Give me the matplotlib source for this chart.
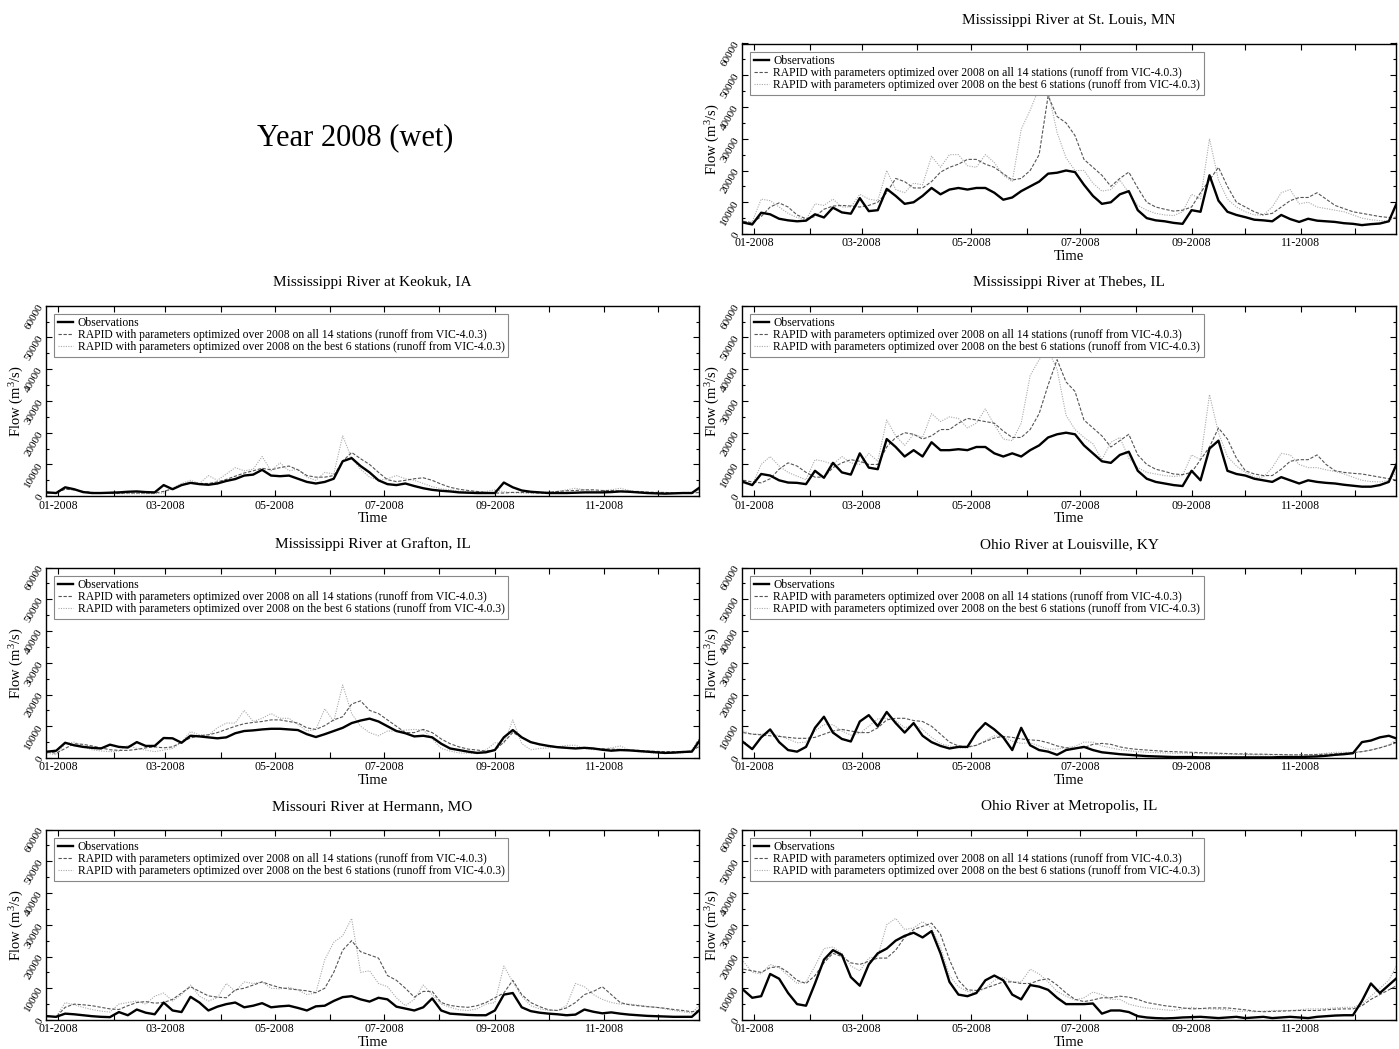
import numpy as np
import matplotlib
matplotlib.use('Agg')
import matplotlib.pyplot as plt

plt.rcParams['font.family'] = ['Liberation Serif', 'DejaVu Serif']
plt.rcParams['mathtext.fontset'] = 'custom'
plt.rcParams['mathtext.rm'] = 'Liberation Serif'
plt.rcParams['mathtext.it'] = 'Liberation Serif:italic'

# sample days (relative to 1 Jan 2008), one value every 5 days
DAYS = np.arange(-6, 360, 5)

MONTH_STARTS = [0, 31, 60, 91, 121, 152, 182, 213, 244, 274, 305, 335]
MONTH_LABELS = ['01-2008', '', '03-2008', '', '05-2008', '', '07-2008', '',
                '09-2008', '', '11-2008', '']

LEGEND_LABELS = [
    'Observations',
    'RAPID with parameters optimized over 2008 on all 14 stations (runoff from VIC-4.0.3)',
    'RAPID with parameters optimized over 2008 on the best 6 stations (runoff from VIC-4.0.3)',
]

# flows in thousands of m3/s
stl_obs = [3.6, 3.0, 6.7, 6.2, 4.8, 4.3, 4.0, 4.2, 6.2, 5.2,
           8.3, 6.8, 6.4, 11.3, 7.2, 7.5, 14.2, 12.0, 9.5, 10.0,
           12.0, 14.5, 12.5, 14.0, 14.5, 14.0, 14.5, 14.5, 13.0, 10.8,
           11.5, 13.5, 15.0, 16.5, 19.0, 19.3, 20.0, 19.5, 15.5, 12.0,
           9.5, 10.0, 12.5, 13.5, 7.5, 5.0, 4.3, 4.0, 3.5, 3.2,
           7.5, 7.0, 18.5, 10.5, 7.0, 6.0, 5.3, 4.5, 4.3, 4.0,
           6.0, 4.7, 3.8, 4.8, 4.2, 4.0, 3.8, 3.4, 3.2, 2.8,
           3.1, 3.3, 4.0, 10.5]
stl_r14 = [4.0, 3.5, 5.5, 8.5, 9.8, 8.5, 6.0, 4.8, 5.5, 7.8,
           8.8, 9.0, 8.8, 8.5, 9.0, 10.0, 13.0, 17.5, 16.5, 14.5,
           14.5, 16.5, 19.5, 21.0, 22.0, 23.5, 23.5, 22.0, 21.0, 19.0,
           17.0, 17.5, 20.0, 25.0, 43.5, 37.0, 35.0, 31.0, 23.5, 21.0,
           18.5, 15.0, 17.5, 19.5, 14.5, 10.0, 8.5, 7.8, 7.2, 7.5,
           8.5, 13.0, 17.0, 21.0, 15.0, 10.0, 8.5, 7.0, 6.0, 6.5,
           8.5, 10.5, 11.5, 11.5, 13.0, 11.0, 9.0, 8.0, 7.0, 6.5,
           6.0, 5.5, 5.2, 5.0]
stl_r6 = [4.0, 3.8, 11.0, 10.5, 8.5, 6.5, 5.2, 4.5, 9.5, 9.0,
          11.0, 8.5, 8.5, 12.5, 11.0, 10.5, 20.0, 14.0, 13.0, 16.0,
          15.5, 24.5, 21.0, 25.0, 25.0, 21.5, 21.0, 25.0, 22.5, 18.5,
          16.5, 33.0, 39.0, 46.0, 45.0, 32.0, 24.0, 20.0, 20.0, 16.0,
          13.5, 14.0, 17.0, 13.0, 9.0, 7.5, 6.5, 6.0, 5.8, 7.0,
          12.5, 11.0, 30.0, 17.0, 11.0, 8.5, 7.0, 6.0, 6.0, 8.5,
          13.0, 14.0, 9.5, 10.0, 8.5, 8.0, 7.5, 7.0, 6.0, 5.0,
          4.5, 4.2, 4.0, 6.0]

keo_obs = [1.2, 1.0, 2.8, 2.2, 1.3, 1.0, 1.0, 1.1, 1.2, 1.4,
           1.5, 1.3, 1.2, 3.5, 2.2, 3.5, 4.2, 3.8, 3.6, 4.0,
           4.8, 5.4, 6.5, 6.8, 8.3, 6.5, 6.3, 6.5, 5.5, 4.5,
           4.0, 4.5, 5.5, 11.0, 12.0, 9.5, 7.5, 5.0, 3.8, 3.5,
           4.0, 3.2, 2.5, 2.0, 1.7, 1.5, 1.2, 1.1, 1.0, 1.0,
           1.0, 4.3, 2.8, 1.8, 1.4, 1.2, 1.0, 1.0, 1.0, 1.1,
           1.2, 1.2, 1.2, 1.3, 1.5, 1.4, 1.2, 1.0, 0.9, 0.8,
           0.9, 1.0, 1.0, 3.0]
keo_r14 = [1.0, 1.0, 2.2, 2.0, 1.5, 1.2, 1.0, 0.9, 0.9, 1.0,
           1.0, 1.0, 1.0, 1.5, 2.4, 3.4, 4.2, 4.0, 4.0, 4.5,
           5.3, 6.3, 7.3, 8.0, 8.8, 8.3, 9.0, 9.5, 8.3, 6.5,
           6.0, 6.0, 6.5, 11.0, 13.8, 11.8, 10.0, 7.5, 5.2, 4.6,
           5.0, 5.5, 5.8, 5.0, 3.8, 2.8, 2.2, 1.8, 1.5, 1.2,
           1.0, 1.0, 1.2, 1.2, 1.1, 1.0, 1.2, 1.5, 1.7, 1.8,
           2.0, 2.0, 1.8, 1.8, 1.6, 1.5, 1.5, 1.3, 1.2, 1.2,
           1.0, 1.0, 1.0, 1.2]
keo_r6 = [1.2, 1.0, 2.3, 2.0, 1.3, 1.0, 0.9, 0.8, 0.8, 0.8,
          0.8, 0.8, 0.8, 1.0, 2.5, 4.0, 5.0, 4.0, 6.5, 5.0,
          7.0, 9.0, 8.0, 8.5, 12.5, 8.0, 10.5, 8.0, 8.5, 6.0,
          5.0, 7.5, 7.0, 19.0, 12.0, 8.5, 6.0, 5.0, 5.5, 6.5,
          5.5, 5.0, 4.0, 3.0, 2.3, 2.0, 1.6, 1.4, 1.3, 1.5,
          2.0, 1.4, 1.1, 1.0, 1.0, 1.2, 1.3, 1.5, 2.0, 2.5,
          2.0, 1.6, 1.5, 2.0, 2.5, 1.8, 1.2, 1.0, 0.9, 0.9,
          1.0, 1.1, 1.2, 2.0]

thb_obs = [4.5, 3.5, 7.0, 6.5, 5.0, 4.3, 4.2, 3.8, 8.0, 5.8,
           10.5, 7.5, 6.8, 13.5, 9.0, 8.5, 18.0, 15.5, 12.5, 14.5,
           12.5, 17.0, 14.5, 14.5, 14.8, 14.5, 15.5, 15.5, 13.5, 12.5,
           13.5, 12.5, 14.5, 16.0, 18.5, 19.5, 20.0, 19.5, 16.0, 13.5,
           11.0, 10.5, 13.0, 14.0, 8.0, 5.5, 4.5, 4.0, 3.5, 3.2,
           8.0, 5.0, 15.0, 17.5, 8.0, 7.0, 6.5, 5.5, 5.0, 4.5,
           6.0, 5.0, 4.0, 5.0, 4.5, 4.2, 4.0, 3.6, 3.3, 3.0,
           3.0, 3.5, 4.5, 11.0]
thb_r14 = [5.0, 4.5, 4.2, 5.5, 8.5, 10.5, 9.5, 7.5, 6.0, 6.0,
           9.0, 10.5, 11.5, 11.0, 10.0, 10.0, 15.5, 18.5, 20.0, 19.5,
           18.0, 19.0, 21.0, 21.0, 23.0, 24.5, 24.0, 23.5, 23.0, 20.5,
           18.5, 18.5, 21.0, 26.0, 35.0, 43.0, 36.0, 33.0, 24.0, 21.5,
           19.0, 15.5, 17.5, 19.5, 13.0, 10.0, 8.5, 7.8, 7.0, 6.8,
           7.5, 11.5, 15.5, 21.5, 18.0, 12.0, 8.0, 7.0, 6.5, 6.5,
           8.5, 11.0, 11.5, 11.5, 13.0, 10.0, 8.0, 7.5, 7.2, 7.0,
           6.5, 6.0, 5.5, 5.0]
thb_r6 = [4.0, 3.5, 10.0, 12.5, 9.5, 7.5, 6.3, 5.2, 11.5, 11.0,
          10.0, 12.5, 10.5, 10.0, 13.5, 11.0, 24.0, 19.0, 16.0, 19.5,
          18.5, 26.0, 23.5, 25.0, 24.5, 21.5, 23.0, 27.5, 22.5, 18.0,
          17.5, 23.0, 38.0, 43.0, 46.0, 40.0, 25.5, 21.0, 18.5, 16.5,
          11.5, 17.0, 18.5, 12.0, 9.0, 7.5, 7.0, 6.5, 6.2, 6.5,
          13.0, 11.5, 32.0, 20.0, 12.5, 9.5, 7.5, 6.0, 6.0, 9.0,
          13.5, 13.0, 10.0, 9.0, 9.0, 8.3, 7.8, 7.0, 6.0, 5.0,
          4.6, 4.5, 5.0, 8.0]

gra_obs = [2.0, 2.3, 4.8, 4.0, 3.5, 3.2, 3.0, 4.2, 3.5, 3.3,
           5.0, 3.8, 3.8, 6.3, 6.2, 4.8, 7.0, 6.8, 6.5, 6.2,
           6.5, 7.8, 8.5, 8.7, 9.0, 9.2, 9.2, 9.0, 8.8, 7.5,
           6.6, 7.5, 8.5, 9.5, 11.0, 11.8, 12.4, 11.5, 10.0, 8.5,
           7.8, 6.8, 7.0, 6.5, 4.5, 3.0, 2.5, 2.0, 1.6, 1.8,
           2.5, 6.5, 8.8, 6.5, 5.0, 4.3, 3.8, 3.4, 3.2, 3.0,
           3.2, 3.0, 2.6, 2.3, 2.5, 2.4, 2.2, 2.0, 1.8, 1.6,
           1.7, 1.9, 2.0, 6.0]
gra_r14 = [2.0, 1.5, 3.0, 4.5, 4.3, 3.8, 3.2, 2.6, 2.4, 2.4,
           2.7, 3.2, 3.5, 3.2, 3.5, 5.0, 6.3, 7.0, 7.3, 8.0,
           9.0, 10.0, 10.8, 11.2, 11.5, 12.0, 12.0, 11.5, 11.0, 9.5,
           9.0, 10.2, 12.0, 13.0, 17.0, 18.0, 15.0, 14.0, 12.0, 10.0,
           8.0, 8.0, 9.0, 8.0, 6.0, 4.5, 3.5, 2.8, 2.5, 2.2,
           2.5, 5.0, 8.0, 6.5, 5.0, 4.2, 3.8, 3.5, 3.3, 3.2,
           3.1, 3.0, 2.9, 2.8, 2.7, 2.5, 2.4, 2.2, 2.1, 2.0,
           2.0, 2.0, 2.2, 4.0]
gra_r6 = [1.5, 1.0, 4.5, 5.0, 3.7, 2.6, 2.2, 2.0, 2.2, 4.0,
          3.0, 2.5, 2.0, 2.5, 3.0, 5.0, 8.3, 7.3, 7.2, 9.5,
          11.0, 11.0, 15.0, 11.5, 12.5, 14.0, 12.5, 12.5, 10.5, 8.5,
          9.0, 15.5, 11.5, 23.0, 14.0, 10.0, 8.0, 7.0, 8.5, 8.5,
          8.8, 9.0, 8.8, 6.0, 3.0, 2.2, 1.6, 1.5, 1.5, 2.5,
          4.8, 4.5, 12.0, 4.5, 2.6, 3.0, 3.2, 3.5, 4.0, 4.0,
          3.0, 2.6, 2.8, 3.2, 3.8, 2.5, 2.0, 1.8, 1.5, 1.5,
          1.5, 1.6, 2.5, 7.0]

lou_obs = [5.0, 2.8, 6.5, 9.0, 5.0, 2.5, 2.0, 3.5, 9.5, 13.0,
           8.0, 6.0, 5.2, 11.5, 13.5, 10.0, 14.5, 11.0, 8.0, 11.0,
           7.0, 5.0, 3.8, 3.0, 3.5, 3.5, 8.0, 11.0, 9.0, 6.5,
           2.5, 9.5, 4.0, 2.5, 2.0, 1.0, 2.5, 3.0, 3.5, 2.5,
           1.8, 1.5, 1.2, 1.0, 0.8, 0.6, 0.5, 0.4, 0.3, 0.3,
           0.3, 0.2, 0.2, 0.2, 0.2, 0.2, 0.2, 0.2, 0.2, 0.2,
           0.3, 0.3, 0.3, 0.4, 0.5, 0.7, 1.0, 1.2, 1.5, 5.0,
           5.5, 6.5, 7.0, 6.0]
lou_r14 = [8.0, 7.5, 7.3, 7.0, 6.8, 6.5, 6.2, 6.2, 6.5, 7.5,
           8.5, 9.0, 8.5, 8.0, 8.0, 9.5, 12.0, 12.5, 12.5, 11.8,
           11.5, 10.0, 7.5, 5.0, 3.8, 3.5, 4.0, 5.2, 6.3, 6.8,
           6.5, 6.0, 5.7, 5.5, 4.8, 3.8, 3.2, 3.0, 3.3, 4.3,
           4.6, 4.3, 3.5, 3.0, 2.7, 2.5, 2.3, 2.1, 2.0, 1.9,
           1.8, 1.7, 1.6, 1.5, 1.4, 1.3, 1.3, 1.2, 1.2, 1.1,
           1.1, 1.0, 1.0, 1.0, 1.1, 1.2, 1.3, 1.5, 1.7, 2.0,
           2.5, 3.2, 4.0, 5.0]
lou_r6 = [8.5, 7.5, 7.5, 7.8, 7.0, 6.0, 4.8, 5.0, 8.5, 10.5,
          10.5, 8.5, 7.2, 7.8, 10.0, 12.3, 12.5, 11.8, 9.5, 10.5,
          9.0, 6.5, 4.5, 3.8, 3.2, 3.2, 4.0, 5.5, 7.0, 6.7,
          5.3, 4.6, 4.8, 3.8, 2.8, 2.8, 3.2, 3.7, 5.0, 5.0,
          3.8, 3.2, 2.6, 2.3, 2.0, 1.8, 1.7, 1.6, 1.5, 1.5,
          1.5, 1.4, 1.3, 1.2, 1.2, 1.1, 1.1, 1.0, 1.0, 1.0,
          1.0, 1.0, 1.0, 1.1, 1.2, 1.5, 1.8, 1.8, 1.8, 2.0,
          2.5, 3.2, 4.2, 6.0]

her_obs = [1.2, 1.0, 2.0, 1.8, 1.5, 1.2, 1.0, 0.9, 2.5, 1.5,
           3.3, 2.3, 1.8, 5.5, 3.0, 2.5, 7.3, 5.5, 3.0, 4.2,
           5.0, 5.5, 4.0, 4.5, 5.3, 4.0, 4.3, 4.5, 3.8, 3.0,
           4.3, 4.5, 6.0, 7.2, 7.5, 6.5, 5.8, 7.0, 6.5, 4.2,
           3.6, 3.0, 4.0, 6.8, 3.0, 2.0, 1.8, 1.6, 1.5, 1.5,
           3.0, 8.0, 8.5, 4.0, 2.8, 2.3, 2.0, 1.8, 1.5, 1.7,
           3.3, 2.6, 2.1, 2.4, 2.0, 1.7, 1.5, 1.3, 1.2, 1.1,
           1.0, 1.0, 1.0, 3.5]
her_r14 = [1.2, 1.0, 4.0, 5.0, 4.8, 4.5, 4.0, 3.5, 3.3, 4.5,
           5.5, 5.8, 5.3, 5.5, 6.5, 8.5, 10.5, 9.0, 7.6, 7.2,
           7.0, 9.5, 10.0, 11.0, 12.0, 11.0, 10.2, 9.8, 9.5, 9.2,
           8.6, 10.0, 15.0, 22.0, 25.0, 21.5, 20.5, 19.5, 14.0, 12.5,
           10.0, 7.2, 9.0, 9.0, 5.5, 4.6, 4.2, 4.0, 4.5, 5.5,
           7.0, 8.5, 12.5, 8.0, 5.5, 4.2, 3.2, 3.0, 3.8, 5.5,
           8.0, 9.0, 10.5, 8.0, 5.5, 4.8, 4.5, 4.2, 4.0, 3.7,
           3.3, 3.0, 2.6, 3.0]
her_r6 = [1.2, 1.0, 5.5, 4.8, 4.0, 3.3, 2.8, 2.5, 5.0, 5.5,
          6.0, 5.0, 7.5, 8.5, 6.0, 8.0, 11.0, 7.5, 6.0, 7.0,
          11.5, 9.0, 12.0, 11.5, 12.0, 10.0, 9.8, 10.3, 9.5, 8.0,
          8.5, 19.0, 24.5, 26.5, 32.0, 15.0, 15.5, 11.5, 10.5, 7.0,
          4.5, 6.5, 11.0, 8.0, 5.0, 4.0, 3.2, 3.0, 3.5, 5.0,
          5.5, 17.0, 12.0, 7.5, 4.5, 3.5, 3.0, 3.0, 4.5, 11.5,
          10.5, 8.0, 6.5, 5.5, 5.0, 5.0, 4.7, 4.3, 4.0, 3.5,
          3.0, 2.6, 2.2, 5.0]

met_obs = [9.5, 7.0, 7.5, 14.5, 13.0, 8.5, 5.0, 4.5, 11.5, 19.0,
           22.0, 20.5, 13.5, 10.8, 17.5, 21.0, 22.5, 25.0, 26.5, 27.5,
           26.0, 28.0, 21.0, 12.0, 8.0, 7.5, 8.5, 12.5, 14.0, 12.5,
           8.0, 6.5, 11.0, 10.5, 9.5, 7.0, 5.0, 5.0, 5.0, 5.2,
           2.0, 3.0, 3.0, 2.5, 1.2, 0.8, 0.6, 0.5, 0.6, 0.8,
           0.9, 1.0, 0.8, 0.6, 0.8, 1.0, 0.6, 0.8, 1.0, 0.6,
           0.8, 1.0, 0.8, 0.6, 1.0, 1.2, 1.4, 1.5, 1.5, 6.0,
           11.5, 8.5, 11.0, 13.5]
met_r14 = [16.0, 15.5, 15.0, 16.5, 16.8, 15.0, 12.5, 11.5, 14.0, 18.0,
           21.0, 20.0, 18.0, 17.5, 18.5, 19.5, 19.5, 22.0, 26.0, 28.5,
           29.5, 30.5, 27.0, 19.0, 12.5, 9.5, 9.3, 10.0, 11.0, 12.0,
           12.0, 11.5, 11.5, 12.5, 13.0, 11.0, 8.5, 6.5, 5.8, 6.3,
           7.0, 7.0, 7.5, 7.2, 6.5, 5.5, 5.0, 4.5, 4.2, 3.8,
           3.5, 3.6, 3.8, 3.8, 3.8, 3.5, 3.2, 2.8, 2.6, 2.7,
           2.8, 2.9, 3.0, 3.0, 3.0, 3.2, 3.4, 3.5, 3.5, 4.5,
           6.5, 8.0, 9.5, 11.0]
met_r6 = [18.5, 15.0, 14.5, 17.5, 16.5, 14.0, 11.5, 12.0, 17.0, 22.5,
          23.0, 21.0, 17.0, 15.5, 19.5, 20.0, 30.0, 32.0, 28.5, 29.0,
          31.0, 29.0, 23.0, 14.0, 10.5, 9.0, 8.6, 10.0, 12.5, 13.5,
          12.0, 12.0, 16.0, 14.5, 12.0, 9.0, 7.5, 6.3, 7.0, 8.8,
          8.0, 6.5, 6.5, 5.0, 4.3, 3.8, 3.5, 3.2, 3.0, 3.5,
          4.0, 3.6, 3.5, 3.4, 3.2, 2.7, 2.8, 2.6, 2.8, 3.0,
          3.0, 3.0, 3.2, 3.5, 3.5, 3.6, 3.8, 4.0, 4.0, 5.0,
          7.5, 10.0, 12.5, 18.0]

PANELS = [
    # (title, obs, r14, r6, column, row)
    ('Mississippi River at St. Louis, MN', stl_obs, stl_r14, stl_r6, 1, 0),
    ('Mississippi River at Keokuk, IA', keo_obs, keo_r14, keo_r6, 0, 1),
    ('Mississippi River at Thebes, IL', thb_obs, thb_r14, thb_r6, 1, 1),
    ('Mississippi River at Grafton, IL', gra_obs, gra_r14, gra_r6, 0, 2),
    ('Ohio River at Louisville, KY', lou_obs, lou_r14, lou_r6, 1, 2),
    ('Missouri River at Hermann, MO', her_obs, her_r14, her_r6, 0, 3),
    ('Ohio River at Metropolis, IL', met_obs, met_r14, met_r6, 1, 3),
]

W, H = 1399, 1049
fig = plt.figure(figsize=(W / 100, H / 100), dpi=100)

col_left = [46, 742]
col_width = [653, 654]
row_top = [43.5, 305.7, 567.5, 829.5]
ax_h = 190.5

fig.text(355 / W, 1 - 138 / H, 'Year 2008 (wet)', fontsize=22,
         ha='center', va='center')

for title, obs, r14, r6, c, r in PANELS:
    left = col_left[c] / W
    bottom = 1 - (row_top[r] + ax_h) / H
    ax = fig.add_axes([left, bottom, col_width[c] / W, ax_h / H])
    ax.plot(DAYS, np.array(obs) * 1000, color='black', lw=1.7,
            label=LEGEND_LABELS[0], zorder=3)
    ax.plot(DAYS, np.array(r14) * 1000, color='#555555', lw=0.8,
            dashes=(3, 1.5), label=LEGEND_LABELS[1], zorder=2)
    ax.plot(DAYS, np.array(r6) * 1000, color='#aaaaaa', lw=0.8,
            dashes=(1, 1.2), label=LEGEND_LABELS[2], zorder=1)
    ax.set_xlim(-6.7, 358)
    ax.set_ylim(0, 60000)
    ax.set_xticks(MONTH_STARTS)
    ax.set_xticklabels(MONTH_LABELS)
    ax.set_yticks(range(0, 60001, 10000))
    ax.set_yticks(range(5000, 60000, 10000), minor=True)
    ax.tick_params(which='major', direction='in', top=True, right=True,
                   length=4, width=0.8, labelsize=8.5)
    ax.tick_params(axis='x', which='major', pad=2.5)
    ax.tick_params(axis='y', which='major', labelsize=8, pad=1)
    ax.tick_params(which='minor', direction='in', left=True, right=True,
                   length=2.5, width=0.8)
    for lab in ax.get_yticklabels():
        lab.set_rotation(60)
    for sp in ax.spines.values():
        sp.set_linewidth(1.0)
    ax.set_xlabel('Time', fontsize=10.5, labelpad=0.5)
    ax.set_ylabel('Flow (m$^3$/s)', fontsize=10.5, va='center')
    ax.yaxis.set_label_coords(-0.045, 0.5)
    ax.set_title(title, fontsize=11, pad=14)
    leg = ax.legend(loc='upper left', fontsize=8.4, frameon=True,
                    fancybox=False, edgecolor='#888888', framealpha=1,
                    borderpad=0.3, labelspacing=0.0, handlelength=1.3,
                    handletextpad=0.4, borderaxespad=0.7)
    leg.get_frame().set_linewidth(0.8)

fig.savefig('out.png', dpi=100)
